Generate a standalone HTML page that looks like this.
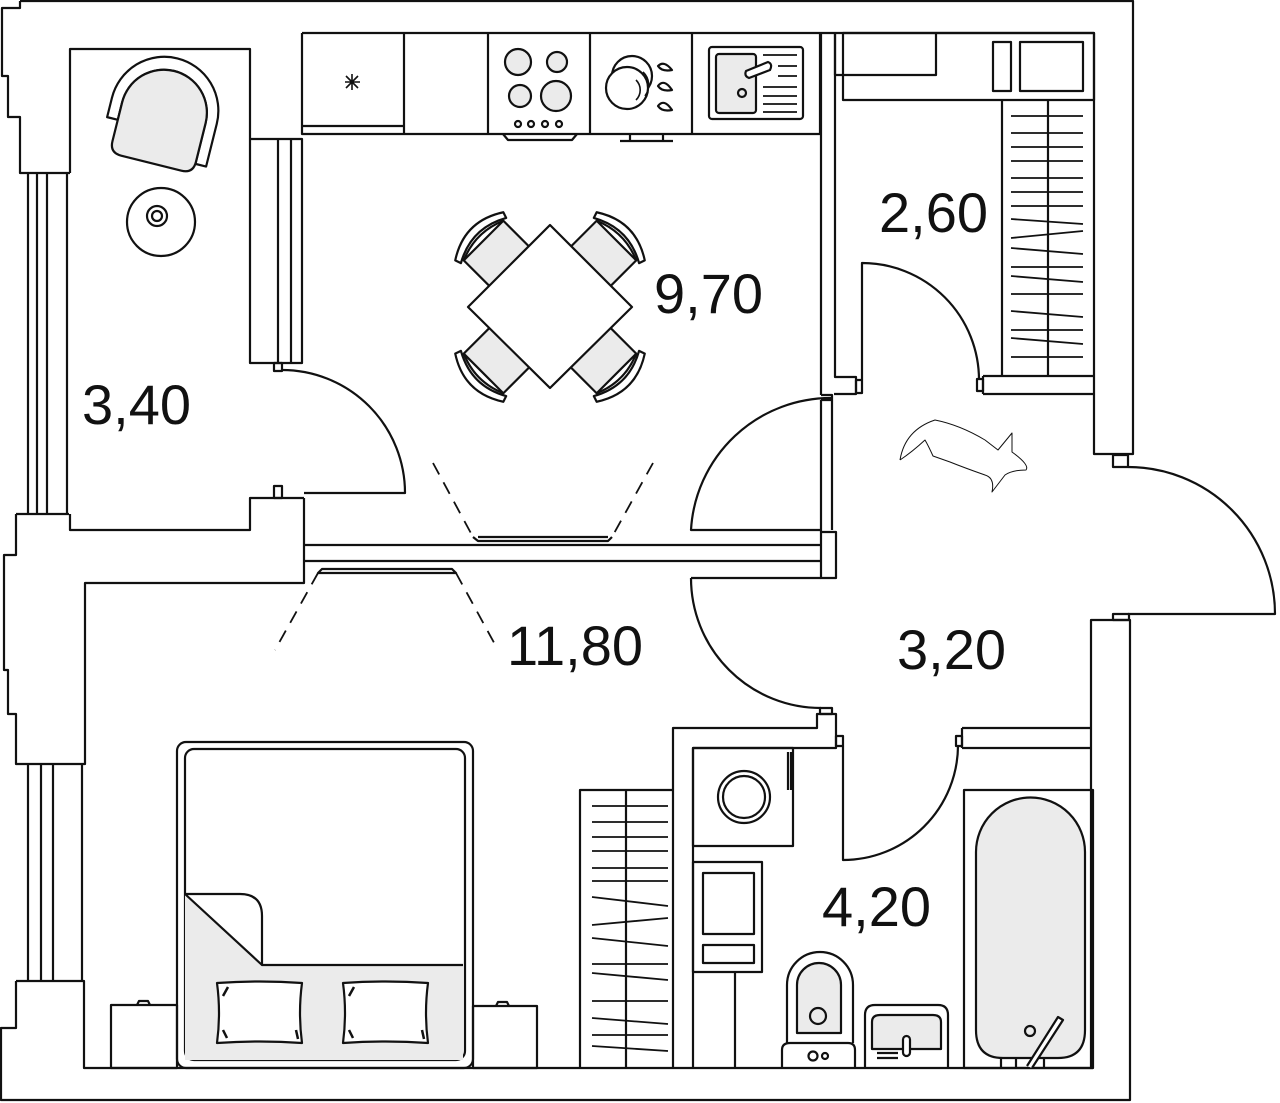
<!DOCTYPE html>
<html><head><meta charset="utf-8"><style>
html,body{margin:0;padding:0;background:#fff}
svg{display:block}
text{font-family:"Liberation Sans",sans-serif;font-size:56px;fill:#111}
</style></head><body>
<svg width="1280" height="1103" viewBox="0 0 1280 1103" xmlns="http://www.w3.org/2000/svg" fill="none" stroke="#111" stroke-width="2.2" stroke-linejoin="round">
<defs>
<g id="ch"><rect x="-28" y="-94" width="56" height="44" fill="#ebebeb"/>
<path d="M-32,-94 Q0,-112 32,-94 L34,-100 Q0,-122 -34,-100 Z" fill="#fff"/>
<path d="M-28,-94 Q0,-106 28,-94" fill="none"/></g>
</defs>
<!-- outer boundary -->
<path d="M20,1 L1133,1 L1133,454 L1094,454 L1094,33 L302,33"/>
<path d="M20,1 L20,8 L2,8 L2,76 L8,76 L8,117 L20,117 L20,173 L70,173"/>
<path d="M16,514 L16,555 L4,555 L4,670 L8,670 L8,714 L16,714 L16,764 L85,764 L85,583 L304,583 L304,498"/>
<path d="M16,981 L84,981 L84,1068 L1093,1068"/>
<path d="M16,981 L16,1028 L1,1028 L1,1100 L1130,1100 L1130,620 L1091,620 L1091,1068"/>
<!-- left windows -->
<path d="M28,173 L28,514 M37,173 L37,514 M47,173 L47,514 M67,173 L67,514 M16,514 L69,514"/>
<path d="M28,764 L28,981 M41,764 L41,981 M53,764 L53,981 M82,764 L82,981"/>
<!-- balcony -->
<path d="M70,173 L70,49 L250,49 L250,139 L302,139 L302,363 L250,363 L250,139"/>
<path d="M278,139 L278,363 M291,139 L291,363"/>
<path d="M70,514 L70,530 L250,530 L250,498 L304,498"/>
<rect x="274" y="363" width="8" height="8"/>
<rect x="274" y="486" width="8" height="12"/>
<path d="M282,370 A123,123 0 0 1 405,493 L304,493"/>
<!-- armchair -->
<g transform="rotate(14 160 120)">
<path d="M108,130 L108,110 A54,54 0 0 1 216,110 L216,154 L205,154 L205,112 A43,43 0 0 0 119,112 L119,130 Z" fill="#fff"/>
<path d="M119,128 L119,112 A43,43 0 0 1 205,112 L205,152 Q205,164 193,164 L131,164 Q119,164 119,152 Z" fill="#ebebeb"/>
</g>
<circle cx="161" cy="222" r="34"/>
<circle cx="157" cy="216" r="10"/>
<circle cx="157" cy="216" r="5"/>
<!-- kitchen counter -->
<path d="M302,33 L302,134 L820,134 L820,33"/>
<path d="M404,33 L404,134 M488,33 L488,134 M590,33 L590,134 M692,33 L692,134 M302,126 L404,126"/>
<path d="M345,82 L360,82 M352,74 L352,90 M346,76 L358,88 M358,76 L346,88" stroke-width="1.6"/>
<circle cx="518" cy="62" r="13" fill="#ebebeb"/>
<circle cx="557" cy="62" r="10" fill="#ebebeb"/>
<circle cx="520" cy="96" r="11" fill="#ebebeb"/>
<circle cx="556" cy="96" r="15" fill="#ebebeb"/>
<circle cx="518" cy="124" r="3"/><circle cx="531" cy="124" r="3"/><circle cx="545" cy="124" r="3"/><circle cx="559" cy="124" r="3"/>
<path d="M503,134 L508,140 L572,140 L577,134"/>
<circle cx="632" cy="76" r="20"/>
<circle cx="627" cy="88" r="21" fill="#fff"/>
<path d="M636,80 A14,14 0 0 1 636,100 M643,72 A18,18 0 0 1 645,96" stroke-width="1.6"/>
<path d="M658,66 Q664,60 672,70 Q662,72 658,66 Z M658,86 Q664,78 672,90 Q662,92 658,86 Z M658,106 Q664,98 672,110 Q662,112 658,106 Z"/>
<path d="M620,141 L673,141 M630,134 L630,141 M663,134 L663,141"/>
<rect x="709" y="47" width="94" height="72" rx="3"/>
<rect x="716" y="54" width="40" height="59" rx="3" fill="#ebebeb"/>
<circle cx="742" cy="93" r="4"/>
<path d="M746,71 L768,62 Q773,64 770,70 L749,78 Q744,76 746,71 Z" fill="#fff"/>
<path d="M763,55 L797,55 M778,66 L797,66 M778,76 L797,76 M763,87 L797,87 M763,96 L797,96 M763,104 L797,104 M763,112 L797,112" stroke-width="1.8"/>
<!-- kitchen/closet wall -->
<path d="M821,33 L821,395 M835,33 L835,377 L856,377 L856,394 L834,394 M821,395 L832,395 L832,400 L821,400"/>
<rect x="856" y="380" width="6" height="13"/>
<path d="M862,380 L862,263 A117,117 0 0 1 979,380"/>
<rect x="977" y="379" width="6" height="12"/>
<path d="M983,376 L1094,376 M983,394 L1094,394 M983,376 L983,394"/>
<path d="M835,33 L835,75 L936,75 L936,33"/>
<rect x="843" y="33" width="251" height="67"/>
<rect x="993" y="42" width="18" height="49"/>
<rect x="1020" y="42" width="63" height="49"/>
<path d="M1002,100 L1002,376 M1048,100 L1048,376"/>
<path d="M1011,116 L1083,116 M1011,133 L1083,133 M1011,147 L1083,147 M1011,161 L1083,161 M1011,178 L1083,178 M1011,192 L1083,192 M1011,206 L1083,206 M1011,219 L1083,224 M1011,238 L1083,231 M1011,248 L1083,254 M1011,267 L1083,267 M1011,276 L1083,282 M1011,294 L1083,294 M1011,311 L1083,317 M1011,330 L1083,330 M1011,338 L1083,344 M1011,357 L1083,357" stroke-width="1.8"/>
<!-- entrance door -->
<rect x="1113" y="455" width="15" height="12"/>
<path d="M1128,467 A147,147 0 0 1 1275,614 L1128,614"/>
<rect x="1113" y="614" width="16" height="6"/>
<!-- hallway doors -->
<path d="M832,400 L832,530 M821,400 L821,532"/>
<path d="M832,398 A140,140 0 0 0 691,530 L821,530"/>
<path d="M304,545 L821,545 M304,561 L821,561"/>
<rect x="821" y="532" width="15" height="46"/>
<path d="M691,578 L821,578 M691,578 A130,130 0 0 0 821,708"/>
<rect x="820" y="708" width="12" height="6"/>
<!-- bath block walls -->
<path d="M673,1068 L673,728 L817,728 L817,714 L836,714 L836,748 L693,748 L693,1068"/>
<rect x="836" y="736" width="7" height="10"/>
<path d="M843,746 L843,860 A115,115 0 0 0 958,746"/>
<rect x="956" y="736" width="6" height="10"/>
<path d="M962,728 L1091,728 M962,748 L1091,748 M962,728 L962,748"/>
<!-- washer -->
<rect x="693" y="748" width="100" height="98"/>
<circle cx="744" cy="797" r="26"/><circle cx="744" cy="797" r="21"/>
<path d="M788,752 L788,790 M791,752 L791,790"/>
<rect x="693" y="862" width="69" height="110"/>
<rect x="703" y="873" width="51" height="61"/>
<rect x="703" y="945" width="51" height="18"/>
<path d="M735,972 L735,1068"/>
<!-- toilet -->
<path d="M787,1043 L787,985 A33,33 0 0 1 853,985 L853,1043"/>
<path d="M797,1033 L797,985 A22,22 0 0 1 841,985 L841,1033 Z" fill="#ebebeb"/>
<circle cx="818" cy="1016" r="8"/>
<path d="M782,1068 L782,1050 Q782,1043 790,1043 L848,1043 Q855,1043 855,1050 L855,1068"/>
<circle cx="813" cy="1056" r="4.5"/><circle cx="825" cy="1056" r="3"/>
<!-- sink -->
<path d="M865,1068 L865,1015 Q865,1005 875,1005 L938,1005 Q948,1005 948,1015 L948,1068"/>
<path d="M872,1049 L872,1022 Q872,1015 880,1015 L933,1015 Q941,1015 941,1022 L941,1049 Z" fill="#ebebeb"/>
<rect x="903" y="1036" width="7" height="20" rx="3.5" fill="#fff"/>
<path d="M877,1053 L898,1053 M877,1058 L898,1058"/>
<!-- bathtub -->
<rect x="964" y="790" width="129" height="278"/>
<path d="M976,852 A54,54 0 0 1 1085,852 L1085,1030 Q1085,1058 1058,1058 L1003,1058 Q976,1058 976,1030 Z" fill="#ebebeb"/>
<circle cx="1030" cy="1031" r="5"/>
<path d="M1027,1066 L1058,1017 L1063,1020 L1032,1068" fill="#fff"/>
<path d="M1001,1058 L1001,1068 M1016,1058 L1016,1068 M1044,1058 L1044,1068"/>
<!-- bedroom wardrobe -->
<path d="M580,1068 L580,790 L673,790 M626,790 L626,1068"/>
<path d="M592,806 L668,806 M592,822 L668,822 M592,837 L668,837 M592,851 L668,851 M592,868 L668,868 M592,881 L668,881 M592,897 L668,906 M592,925 L668,918 M592,938 L668,946 M592,964 L668,964 M592,973 L668,980 M592,1001 L668,1001 M592,1018 L668,1024 M592,1035 L668,1035 M592,1046 L668,1051" stroke-width="1.8"/>
<!-- bed -->
<rect x="177" y="742" width="296" height="326" rx="9"/>
<rect x="185" y="749" width="280" height="311" rx="9"/>
<path d="M185,894 L262,965 L463,965 L463,1060 L185,1060 Z" fill="#ebebeb" stroke="none"/>
<path d="M185,894 L240,894 Q262,894 262,916 L262,965 L463,965 M185,894 L262,965"/>
<path d="M217,983 Q260,980 302,983 Q298,1013 302,1043 Q260,1040 217,1043 Q221,1013 217,983 Z" fill="#fff"/>
<path d="M343,983 Q386,980 428,983 Q424,1013 428,1043 Q386,1040 343,1043 Q347,1013 343,983 Z" fill="#fff"/>
<path d="M223,996 L228,987 M223,1030 L227,1038 M296,1030 L298,1039 M349,996 L354,987 M349,1030 L353,1038 M422,1030 L424,1039" stroke-width="2.5"/>
<rect x="111" y="1005" width="66" height="63"/>
<rect x="473" y="1006" width="64" height="62"/>
<path d="M137,1005 L139,1001 L148,1001 L150,1005 M496,1006 L498,1002 L507,1002 L509,1006"/>
<!-- lamps -->
<path d="M473,537 L478,541 L608,541 L612,537 M478,537 L608,537"/>
<path d="M433,463 L473,537 M653,463 L612,537" stroke-dasharray="13,9" stroke-width="1.8"/>
<path d="M318,573 L322,569 L452,569 L456,573 Z"/>
<path d="M318,573 L275,650 M456,573 L498,650" stroke-dasharray="13,9" stroke-width="1.8"/>
<!-- chairs + table -->
<g transform="translate(550,307)">
<use href="#ch" transform="rotate(-45)"/>
<use href="#ch" transform="rotate(45)"/>
<use href="#ch" transform="rotate(-135)"/>
<use href="#ch" transform="rotate(135)"/>
</g>
<path d="M550,225 L632,307 L550,388 L468,307 Z" fill="#fff"/>
<!-- dog (faint sketch) -->
<path d="M900,460 Q905,430 935,420 Q960,425 985,440 L998,450 L1012,433 L1012,452 Q1030,465 1026,470 Q1012,470 1005,475 L992,492 Q995,478 985,475 Q965,468 950,462 L933,456 Q928,445 925,440 Q912,452 900,460" stroke-width="1"/>
<g stroke="none">
<text x="82" y="424">3,40</text>
<text x="654" y="313">9,70</text>
<text x="879" y="232">2,60</text>
<text x="507" y="665">11,80</text>
<text x="897" y="669">3,20</text>
<text x="822" y="926">4,20</text>
</g>
</svg>
</body></html>
